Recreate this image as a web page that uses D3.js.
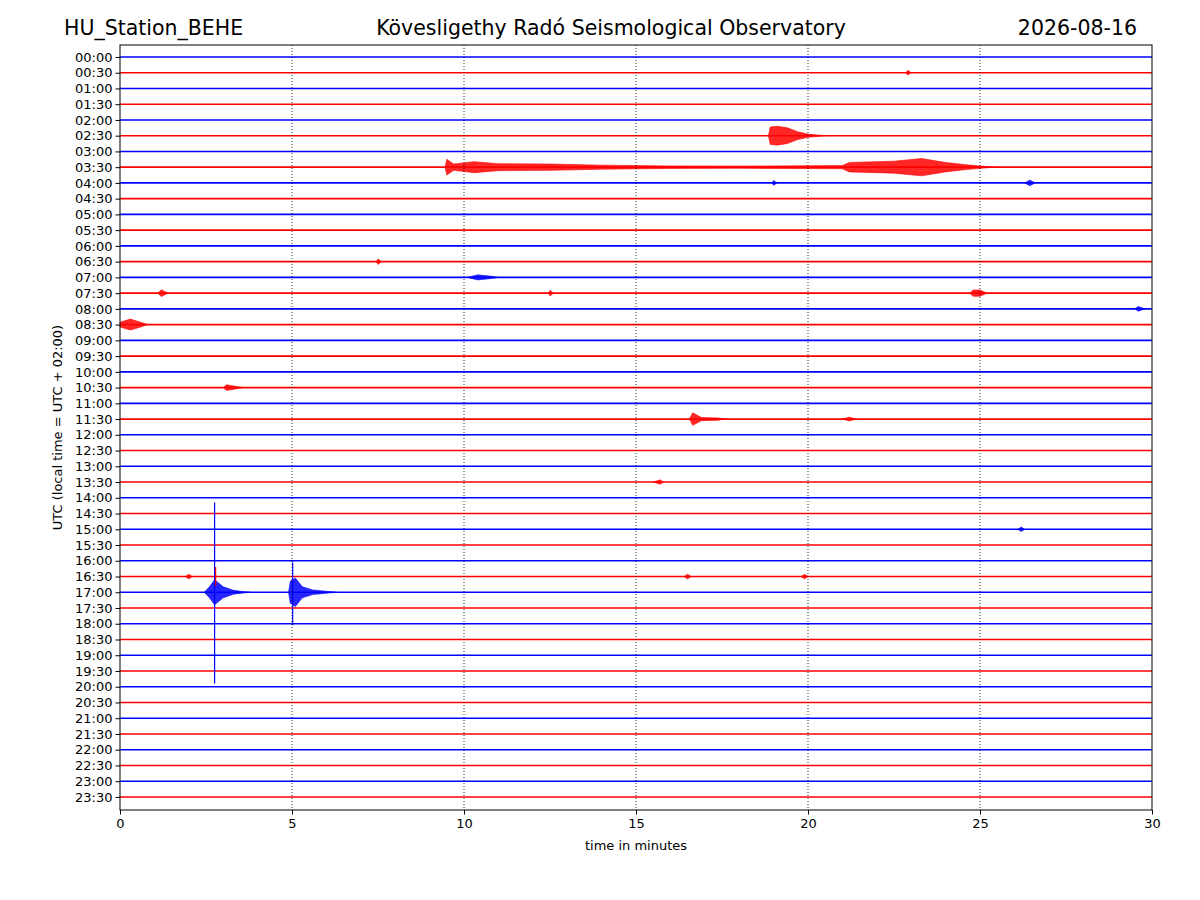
<!DOCTYPE html>
<html>
<head>
<meta charset="utf-8">
<script src="https://cdn.jsdelivr.net/npm/d3@7"></script>
<style>
  body { margin: 0; background: #fff; }
  text { font-family: "DejaVu Sans", sans-serif; }
</style>
</head>
<body>
<div id="chart"></div>
<script>
const width = 1200, height = 900;
const margin = {top: 45, right: 48, bottom: 90, left: 120};

// row labels, every 30 minutes
const rowLabels = d3.range(48).map(i => d3.format("02")(Math.floor(i / 2)) + ":" + (i % 2 ? "30" : "00"));
const xTicks = [0, 5, 10, 15, 20, 25, 30];
const gridMinutes = [5, 10, 15, 20, 25];

// event envelopes: row index, then [minute, half-amplitude in row units]
const events = [
  {row: 1, env: [[22.85, 0], [22.9, 0.15], [23.0, 0]]},
  {row: 5, env: [[18.85, 0], [18.9, 0.55], [19.1, 0.6], [19.4, 0.5], [19.7, 0.25], [20.0, 0.1], [20.3, 0.04], [20.5, 0]]},
  {row: 7, env: [[9.45, 0], [9.5, 0.5], [9.7, 0.2], [10.3, 0.35], [11.0, 0.22], [12.5, 0.2], [14.0, 0.13], [16.0, 0.08], [18.0, 0.07], [21.0, 0.1], [21.2, 0.3], [22.5, 0.38], [23.3, 0.55], [24.0, 0.3], [24.6, 0.15], [25.2, 0.04], [25.4, 0]]},
  {row: 8, env: [[18.95, 0], [19.0, 0.15], [19.1, 0]]},
  {row: 8, env: [[26.3, 0], [26.45, 0.18], [26.6, 0]]},
  {row: 13, env: [[7.45, 0], [7.5, 0.18], [7.6, 0]]},
  {row: 14, env: [[10.1, 0], [10.4, 0.16], [10.8, 0.07], [11.0, 0]]},
  {row: 15, env: [[1.1, 0], [1.2, 0.22], [1.4, 0]]},
  {row: 15, env: [[12.45, 0], [12.5, 0.18], [12.6, 0]]},
  {row: 15, env: [[24.7, 0], [24.8, 0.2], [25.0, 0.2], [25.2, 0]]},
  {row: 16, env: [[29.5, 0], [29.6, 0.15], [29.8, 0]]},
  {row: 17, env: [[0.0, 0.15], [0.3, 0.35], [0.6, 0.15], [0.8, 0]]},
  {row: 21, env: [[3.0, 0], [3.1, 0.18], [3.4, 0.07], [3.6, 0]]},
  {row: 23, env: [[16.55, 0], [16.65, 0.4], [16.9, 0.1], [17.4, 0.07], [17.6, 0]]},
  {row: 23, env: [[21.0, 0], [21.2, 0.12], [21.4, 0]]},
  {row: 27, env: [[15.5, 0], [15.7, 0.14], [15.8, 0]]},
  {row: 30, env: [[26.1, 0], [26.2, 0.14], [26.3, 0]]},
  {row: 33, env: [[1.9, 0], [2.0, 0.15], [2.1, 0]]},
  {row: 33, env: [[16.4, 0], [16.5, 0.15], [16.6, 0]]},
  {row: 33, env: [[19.8, 0], [19.9, 0.15], [20.0, 0]]},
  {row: 34, env: [[2.45, 0], [2.6, 0.35], [2.75, 0.8], [3.0, 0.35], [3.3, 0.12], [3.6, 0.04], [3.8, 0]]},
  {row: 34, env: [[4.9, 0], [4.95, 0.7], [5.1, 0.9], [5.3, 0.35], [5.6, 0.15], [6.0, 0.06], [6.3, 0]]}
];
// sharp spikes: row, minute, up, down (row units)
const spikes = [
  {row: 34, m: 2.75, up: 5.7, down: 5.8},
  {row: 34, m: 5.02, up: 1.9, down: 2.1},
  {row: 33, m: 2.78, up: 0.6, down: 0.6}
];

const svg = d3.select("#chart").append("svg")
  .attr("width", width).attr("height", height);

const x = d3.scaleLinear().domain([0, 30]).range([margin.left, width - margin.right]);
const y = d3.scaleLinear().domain([-0.76, 47.83]).range([margin.top, height - margin.bottom]);
const rowColor = i => i % 2 ? "#ff0000" : "#0000ff";
const unit = y(1) - y(0);

const plot = svg.append("g");

// baselines
plot.selectAll("line.trace")
  .data(rowLabels)
  .join("line")
    .attr("class", "trace")
    .attr("x1", x(0)).attr("x2", x(30))
    .attr("y1", (d, i) => y(i)).attr("y2", (d, i) => y(i))
    .attr("stroke", (d, i) => rowColor(i))
    .attr("stroke-width", 1.6);

// event envelopes as filled symmetric areas
const area = d3.area()
  .x(d => x(d[0]))
  .y0(d => -d[1] * unit)
  .y1(d => d[1] * unit);

plot.selectAll("path.event")
  .data(events)
  .join("path")
    .attr("class", "event")
    .attr("transform", d => `translate(0,${y(d.row)})`)
    .attr("d", d => area(d.env))
    .attr("fill", d => rowColor(d.row))
    .attr("fill-opacity", 0.85)
    .attr("stroke", d => rowColor(d.row))
    .attr("stroke-width", 0.6);

plot.selectAll("line.spike")
  .data(spikes)
  .join("line")
    .attr("class", "spike")
    .attr("x1", d => x(d.m)).attr("x2", d => x(d.m))
    .attr("y1", d => y(d.row - d.up)).attr("y2", d => y(d.row + d.down))
    .attr("stroke", d => rowColor(d.row))
    .attr("stroke-width", 1.2);

// grid
svg.append("g").selectAll("line")
  .data(gridMinutes)
  .join("line")
    .attr("x1", d => x(d)).attr("x2", d => x(d))
    .attr("y1", margin.top).attr("y2", height - margin.bottom)
    .attr("stroke", "#000").attr("stroke-width", 0.8)
    .attr("stroke-dasharray", "1 2");

// frame
svg.append("rect")
  .attr("x", margin.left).attr("y", margin.top)
  .attr("width", width - margin.left - margin.right)
  .attr("height", height - margin.top - margin.bottom)
  .attr("fill", "none").attr("stroke", "#000").attr("stroke-width", 1);

// axes
const xAxis = svg.append("g")
  .attr("transform", `translate(0,${height - margin.bottom})`)
  .call(d3.axisBottom(x).tickValues(xTicks).tickSize(4.5).tickPadding(4).tickFormat(d3.format("d")));
const yAxis = svg.append("g")
  .attr("transform", `translate(${margin.left},0)`)
  .call(d3.axisLeft(y).tickValues(d3.range(48)).tickSize(4.5).tickPadding(3).tickFormat(i => rowLabels[i]));
[xAxis, yAxis].forEach(a => {
  a.select(".domain").remove();
  a.selectAll("text").attr("font-size", 13).attr("fill", "#000").style("font-family", "DejaVu Sans");
  a.selectAll("line").attr("stroke", "#000");
});

svg.append("text")
  .attr("x", (margin.left + width - margin.right) / 2).attr("y", 850)
  .attr("text-anchor", "middle").attr("font-size", 13)
  .text("time in minutes");
svg.append("text")
  .attr("transform", `translate(62,${(margin.top + height - margin.bottom) / 2}) rotate(-90)`)
  .attr("text-anchor", "middle").attr("font-size", 13)
  .text("UTC (local time = UTC + 02:00)");

// titles
svg.append("text").attr("x", 64).attr("y", 35).attr("font-size", 20.5).text("HU_Station_BEHE");
svg.append("text").attr("x", 611).attr("y", 35).attr("text-anchor", "middle").attr("font-size", 20.5)
  .text("Kövesligethy Radó Seismological Observatory");
svg.append("text").attr("x", 1137).attr("y", 35).attr("text-anchor", "end").attr("font-size", 20.5).text("2026-08-16");
</script>
</body>
</html>
